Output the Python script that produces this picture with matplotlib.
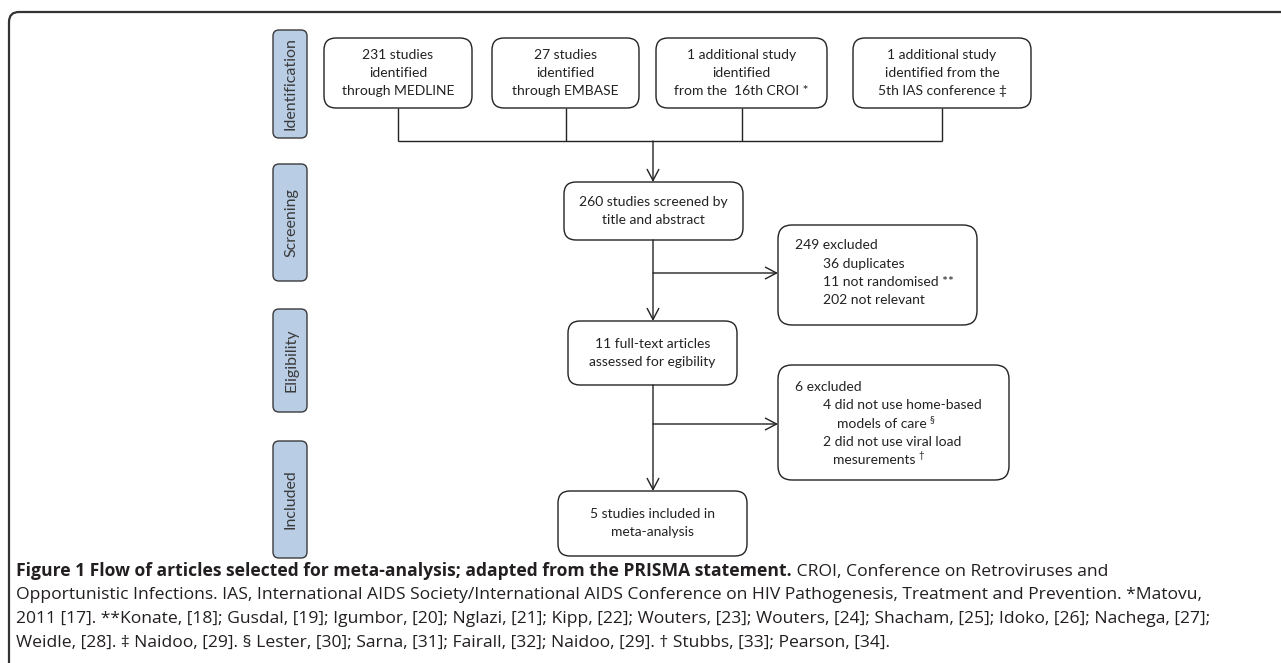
import matplotlib.pyplot as plt
from matplotlib.patches import FancyBboxPatch

plt.rcParams['font.family'] = ['Lato', 'DejaVu Sans']

# phase labels down the left side
phases = ['Identification', 'Screening', 'Eligibility', 'Included']
phase_y = [(30, 138), (164, 281), (309, 412), (441, 558)]

# sources of records
sources = ['231 studies\nidentified\nthrough MEDLINE',
           '27 studies\nidentified\nthrough EMBASE',
           '1 additional study\nidentified\nfrom the  16th CROI *',
           '1 additional study\nidentified from the\n5th IAS conference \u2021']
source_x = [(324, 472), (492, 639), (656, 827), (853, 1031)]

# main flow boxes
flow = ['260 studies screened by\ntitle and abstract',
        '11 full-text articles\nassessed for egibility',
        '5 studies included in\nmeta-analysis']
flow_box = [(564, 743, 182, 240), (568, 737, 321, 385), (558, 747, 491, 556)]

# exclusion boxes
excl1 = ['249 excluded', '36 duplicates', '11 not randomised **', '202 not relevant']
excl1_x = [795, 823, 823, 823]
excl2 = ['6 excluded', '4 did not use home-based', 'models of care',
         '2 did not use viral load', 'mesurements']
excl2_x = [795, 823, 837, 823, 833]
excl2_sup = ['', '', '\u00a7', '', '\u2020']

caption_bold = 'Figure 1 Flow of articles selected for meta-analysis; adapted from the PRISMA statement.'
caption_lines = [
    ' CROI, Conference on Retroviruses and',
    'Opportunistic Infections. IAS, International AIDS Society/International AIDS Conference on HIV Pathogenesis, Treatment and Prevention. *Matovu,',
    '2011 [17]. **Konate, [18]; Gusdal, [19]; Igumbor, [20]; Nglazi, [21]; Kipp, [22]; Wouters, [23]; Wouters, [24]; Shacham, [25]; Idoko, [26]; Nachega, [27];',
    'Weidle, [28]. \u2021 Naidoo, [29]. \u00a7 Lester, [30]; Sarna, [31]; Fairall, [32]; Naidoo, [29]. \u2020 Stubbs, [33]; Pearson, [34].',
]

W, H = 1281, 663
fig = plt.figure(figsize=(W / 100, H / 100), dpi=100)
ax = fig.add_axes([0, 0, 1, 1])
ax.set_xlim(0, W)
ax.set_ylim(H, 0)
ax.axis('off')

ink = '#222222'


def box(x0, x1, y0, y1, r=12, fc='white', ec=ink, lw=1.0):
    p = FancyBboxPatch((x0, y0), x1 - x0, y1 - y0,
                       boxstyle='round,pad=0,rounding_size=%d' % r,
                       fc=fc, ec=ec, lw=lw)
    ax.add_patch(p)


def line(xs, ys):
    ax.plot(xs, ys, color=ink, lw=1.0, solid_capstyle='butt')


def arrow(x0, y0, x1, y1):
    ax.annotate('', xy=(x1, y1), xytext=(x0, y0),
                arrowprops=dict(arrowstyle='->,head_length=0.8,head_width=0.42',
                                color=ink, lw=1.0, shrinkA=0, shrinkB=0))


# outer frame (only top and left edges show)
box(9, W + 40, 12, H + 40, r=10, ec='#333333', lw=1.6)

# phase labels
for name, (y0, y1) in zip(phases, phase_y):
    box(273, 307, y0, y1, r=6, fc='#b9cde5', ec='#3a3a3a', lw=1.0)
    ax.text(291, (y0 + y1) / 2, name, rotation=90, ha='center', va='center',
            fontsize=11.5, color='#3a3a3a')

# source boxes and connector
top_y0, top_y1, join_y = 38, 108, 141
for txt, (x0, x1) in zip(sources, source_x):
    box(x0, x1, top_y0, top_y1)
    ax.text((x0 + x1) / 2, (top_y0 + top_y1) / 2, txt, ha='center', va='center',
            fontsize=10, linespacing=1.6, color=ink)
    line([(x0 + x1) / 2] * 2, [top_y1, join_y])
line([sum(source_x[0]) / 2, sum(source_x[-1]) / 2], [join_y, join_y])

cx = 653
arrow(cx, join_y, cx, flow_box[0][2])

for txt, (x0, x1, y0, y1) in zip(flow, flow_box):
    box(x0, x1, y0, y1)
    ax.text((x0 + x1) / 2, (y0 + y1) / 2, txt, ha='center', va='center',
            fontsize=10, linespacing=1.6, color=ink)

arrow(cx, flow_box[0][3], cx, flow_box[1][2])
arrow(cx, flow_box[1][3], cx, flow_box[2][2])

# exclusion branches
box(778, 977, 225, 325, r=14)
arrow(cx, 273, 778, 273)
for i, (txt, x) in enumerate(zip(excl1, excl1_x)):
    ax.text(x, 245 + i * 18.5, txt, ha='left', va='center', fontsize=10, color=ink)

box(778, 1009, 365, 480, r=14)
arrow(cx, 424, 778, 424)
for i, (txt, x, sup) in enumerate(zip(excl2, excl2_x, excl2_sup)):
    t = ax.text(x, 387 + i * 18.3, txt, ha='left', va='center', fontsize=10, color=ink)
    if sup:
        ax.annotate(sup, xy=(1, 1), xycoords=t, xytext=(2, 2), textcoords='offset points',
                    ha='left', va='top', fontsize=7, color=ink)

# caption
cap_font = ['Open Sans', 'DejaVu Sans']
cap_size = 12.6
cap_y = [571, 595, 619, 643]
t = ax.text(16, cap_y[0], caption_bold, ha='left', va='center', fontsize=cap_size,
            fontweight='bold', family=cap_font, color='#231f20')
ax.annotate(caption_lines[0], xy=(1, 0), xycoords=t, ha='left', va='bottom',
            fontsize=cap_size, family=cap_font, color='#231f20')
for txt, y in zip(caption_lines[1:], cap_y[1:]):
    ax.text(16, y, txt, ha='left', va='center', fontsize=cap_size, family=cap_font,
            color='#231f20')

fig.savefig('out.png', dpi=100)
